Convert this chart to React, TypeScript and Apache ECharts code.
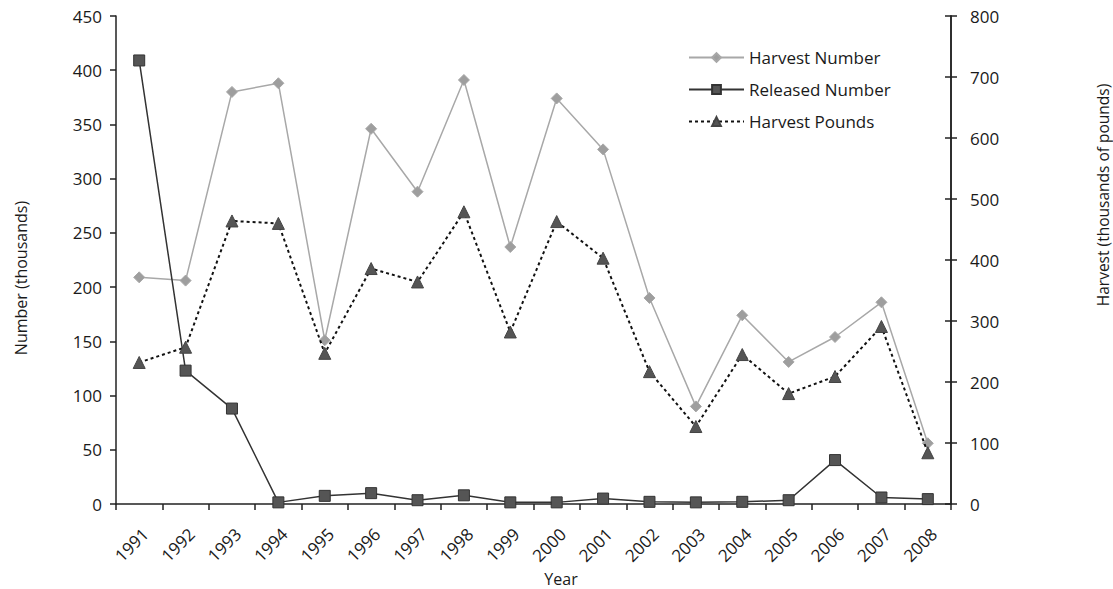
import React, { useEffect, useRef } from "react";
import * as echarts from "echarts";

const years = ["1991","1992","1993","1994","1995","1996","1997","1998","1999","2000","2001","2002","2003","2004","2005","2006","2007","2008"];
const harvestNumber = [209, 206, 380, 388, 151, 346, 288, 391, 237, 374, 327, 190, 90, 174, 131, 154, 186, 56];
const releasedNumber = [409, 123, 88, 1.5, 7.5, 10, 3.5, 8, 1.5, 1.5, 5, 2, 1.5, 2, 3.5, 40.5, 6, 4.5];
const harvestPounds = [232, 257, 464, 460, 247, 386, 364, 479, 282, 463, 403, 217, 127, 245, 181, 209, 291, 84];
const leftTicks = { min: 0, max: 450, interval: 50 };
const rightTicks = { min: 0, max: 800, interval: 100 };

const FONT = "'Open Sans', sans-serif";
const TXT = "#1a1a1a";
const FS = 17;

export default function App() {
  const ref = useRef<HTMLDivElement>(null);
  useEffect(() => {
    if (!ref.current) return;
    const chart = echarts.init(ref.current, null, { renderer: "svg" });
    const axisLine = { show: true, lineStyle: { color: "#222", width: 1.5 } };
    chart.setOption({
      animation: false,
      backgroundColor: "#fff",
      textStyle: { fontFamily: FONT },
      grid: { left: 116, right: 162, top: 16, bottom: 85, containLabel: false },
      legend: {
        orient: "vertical",
        left: 683,
        top: 44,
        itemWidth: 55,
        itemHeight: 11,
        itemGap: 15,
        textStyle: { fontFamily: FONT, fontSize: FS, color: TXT },
        data: ["Harvest Number", "Released Number", "Harvest Pounds"],
      },
      xAxis: {
        type: "category",
        data: years,
        boundaryGap: true,
        axisLine,
        axisTick: { show: true, inside: false, length: 6, lineStyle: { color: "#222", width: 1.5 } },
        axisLabel: { rotate: 45, margin: 21, fontSize: FS, color: TXT, fontFamily: FONT, interval: 0, verticalAlign: "top" },
        splitLine: { show: false },
      },
      yAxis: [
        {
          type: "value",
          position: "left",
          min: leftTicks.min, max: leftTicks.max, interval: leftTicks.interval,
          axisLine,
          axisTick: { show: true, length: 6, lineStyle: { color: "#222", width: 1.5 } },
          axisLabel: { fontSize: FS, color: TXT, margin: 14, fontFamily: FONT },
          splitLine: { show: false },
        },
        {
          type: "value",
          position: "right",
          min: rightTicks.min, max: rightTicks.max, interval: rightTicks.interval,
          axisLine,
          axisTick: { show: true, length: 6, lineStyle: { color: "#222", width: 1.5 } },
          axisLabel: { fontSize: FS, color: TXT, margin: 19, fontFamily: FONT },
          splitLine: { show: false },
        },
        {
          type: "value",
          position: "right",
          min: rightTicks.min, max: rightTicks.max, interval: rightTicks.interval,
          axisLine,
          axisTick: { show: true, inside: true, length: 6, lineStyle: { color: "#222", width: 1.5 } },
          axisLabel: { show: false },
          splitLine: { show: false },
        },
      ],
      graphic: [
        {
          type: "text",
          x: 21, y: 278, rotation: Math.PI / 2,
          style: { text: "Number (thousands)", fontFamily: FONT, fontSize: 16, fill: TXT, align: "center", verticalAlign: "middle" },
        },
        {
          type: "text",
          x: 1103, y: 195, rotation: Math.PI / 2,
          style: { text: "Harvest (thousands of pounds)", fontFamily: FONT, fontSize: 15.5, fill: TXT, align: "center", verticalAlign: "middle" },
        },
        {
          type: "text",
          x: 561, y: 579,
          style: { text: "Year", fontFamily: FONT, fontSize: 16, fill: TXT, align: "center", verticalAlign: "middle" },
        },
      ],
      series: [
        {
          name: "Harvest Number",
          type: "line",
          yAxisIndex: 0,
          data: harvestNumber,
          symbol: "diamond",
          symbolSize: 11,
          itemStyle: { color: "#9e9e9e", borderColor: "#a8a8a8", borderWidth: 1 },
          lineStyle: { color: "#a8a8a8", width: 1.5 },
          z: 3,
        },
        {
          name: "Released Number",
          type: "line",
          yAxisIndex: 0,
          data: releasedNumber,
          symbol: "rect",
          symbolSize: 11,
          itemStyle: { color: "#555", borderColor: "#333", borderWidth: 1 },
          lineStyle: { color: "#333", width: 1.5 },
          z: 4,
        },
        {
          name: "Harvest Pounds",
          type: "line",
          yAxisIndex: 1,
          data: harvestPounds,
          symbol: "triangle",
          symbolSize: 12,
          itemStyle: { color: "#555", borderColor: "#444", borderWidth: 1 },
          lineStyle: { color: "#111", width: 2, type: [3, 3] },
          z: 5,
        },
      ],
    });
    return () => chart.dispose();
  }, []);
  return <div ref={ref} style={{ width: 1113, height: 589, position: "absolute", left: 0, top: 0 }} />;
}
